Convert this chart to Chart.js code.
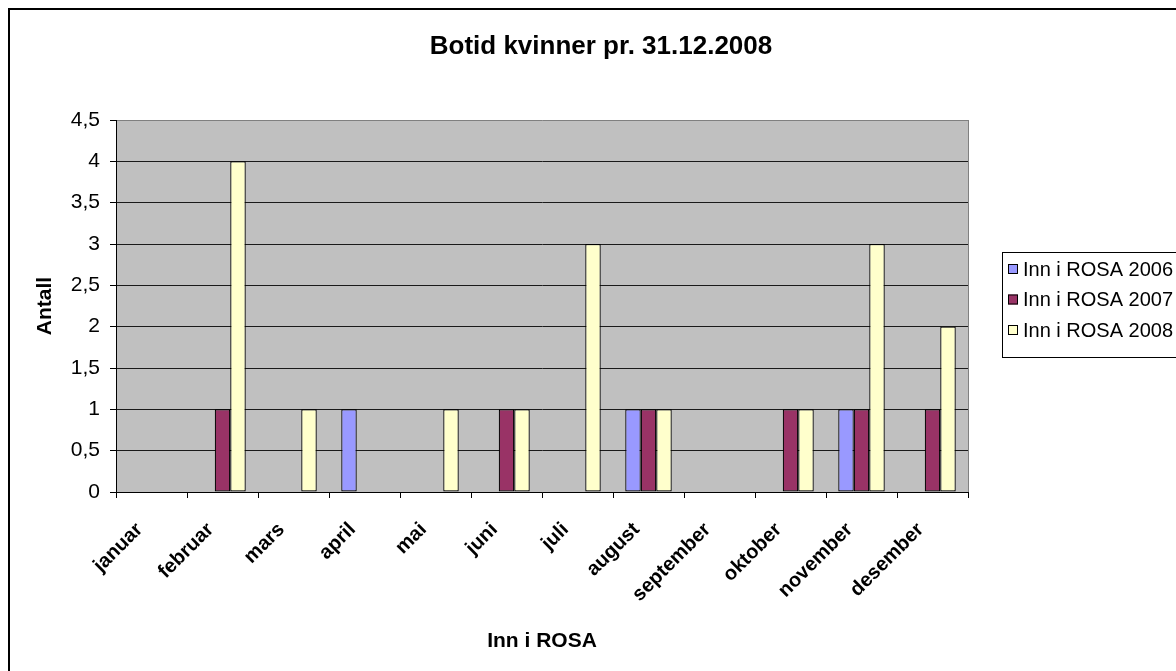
<!DOCTYPE html>
<html>
<head>
<meta charset="utf-8">
<script src="https://cdn.jsdelivr.net/npm/chart.js@4.4.1/dist/chart.umd.min.js"></script>
<style>
  html, body { margin: 0; padding: 0; background: #ffffff; overflow: hidden; }
  canvas { display: block; }
</style>
</head>
<body>
<canvas id="c" width="1176" height="671"></canvas>
<script>
const chartTitle = 'Botid kvinner pr. 31.12.2008';
const xAxisTitle = 'Inn i ROSA';
const yAxisTitle = 'Antall';
const categories = ['januar', 'februar', 'mars', 'april', 'mai', 'juni', 'juli', 'august', 'september', 'oktober', 'november', 'desember'];
const seriesNames = ['Inn i ROSA 2006', 'Inn i ROSA 2007', 'Inn i ROSA 2008'];
const values2006 = [0, 0, 0, 1, 0, 0, 0, 1, 0, 0, 1, 0];
const values2007 = [0, 1, 0, 0, 0, 1, 0, 1, 0, 1, 1, 1];
const values2008 = [0, 4, 1, 0, 1, 1, 3, 1, 0, 1, 3, 2];
const seriesColors = ['#9999FF', '#993366', '#FFFFCC'];
const yTickLabels = ['0', '0,5', '1', '1,5', '2', '2,5', '3', '3,5', '4', '4,5'];

const FONT = "'Liberation Sans', Arial, sans-serif";

const decorPlugin = {
  id: 'decor',
  beforeDraw(chart) {
    const ctx = chart.ctx;
    const a = chart.chartArea;
    ctx.save();
    ctx.fillStyle = '#ffffff';
    ctx.fillRect(0, 0, chart.width, chart.height);
    // outer chart border
    ctx.fillStyle = '#000000';
    ctx.fillRect(8, 8, 2, chart.height - 8);
    ctx.fillRect(8, 8, chart.width - 8, 2);
    // plot area
    ctx.fillStyle = '#C0C0C0';
    ctx.fillRect(a.left, a.top, a.right - a.left, a.bottom - a.top);
    ctx.restore();
  },
  afterDatasetsDraw(chart) {
    const ctx = chart.ctx;
    const a = chart.chartArea;
    ctx.save();
    ctx.strokeStyle = '#808080';
    ctx.lineWidth = 1;
    ctx.beginPath();
    ctx.moveTo(Math.round(a.right) + 0.5, a.top);
    ctx.lineTo(Math.round(a.right) + 0.5, a.bottom);
    ctx.stroke();
    ctx.restore();
  },
  afterDraw(chart) {
    const ctx = chart.ctx;
    ctx.save();
    // title
    ctx.fillStyle = '#000000';
    ctx.font = "bold 26px " + FONT;
    ctx.textAlign = 'center';
    ctx.textBaseline = 'middle';
    ctx.fillText(chartTitle, 601, 47);
    // legend
    const bx = 1002, by = 252, bh = 105;
    ctx.strokeStyle = '#000000';
    ctx.lineWidth = 1;
    ctx.strokeRect(bx + 0.5, by + 0.5, chart.width - bx + 10, bh);
    ctx.font = "20px " + FONT;
    ctx.textAlign = 'left';
    chart.data.datasets.forEach((ds, i) => {
      const cy = 269 + i * 30.5;
      ctx.fillStyle = ds.backgroundColor;
      ctx.fillRect(1008, cy - 5, 10, 10);
      ctx.strokeStyle = '#000000';
      ctx.strokeRect(1008.5, cy - 4.5, 9, 9);
      ctx.fillStyle = '#000000';
      ctx.fillText(ds.label, 1023, cy + 1);
    });
    ctx.restore();
  }
};

new Chart(document.getElementById('c'), {
  type: 'bar',
  data: {
    labels: categories,
    datasets: [
      { label: seriesNames[0], data: values2006, backgroundColor: seriesColors[0] },
      { label: seriesNames[1], data: values2007, backgroundColor: seriesColors[1] },
      { label: seriesNames[2], data: values2008, backgroundColor: seriesColors[2] }
    ]
  },
  options: {
    responsive: false,
    animation: false,
    devicePixelRatio: 1,
    layout: { padding: { top: 120, right: 208, bottom: 0, left: 0 } },
    datasets: {
      bar: {
        barPercentage: 1,
        categoryPercentage: 0.655,
        borderColor: '#000000',
        borderWidth: (c) => (c.raw === 0 ? 0 : 1.2),
        borderSkipped: false
      }
    },
    plugins: {
      legend: { display: false },
      title: { display: false },
      tooltip: { enabled: false }
    },
    scales: {
      x: {
        offset: true,
        afterFit: (s) => { s.height = 179; },
        grid: { offset: true, drawOnChartArea: false, drawTicks: true, tickLength: 6, color: '#000000', lineWidth: 1 },
        border: { display: true, color: '#000000', width: 1 },
        ticks: {
          autoSkip: false,
          maxRotation: 45,
          minRotation: 45,
          padding: 20,
          labelOffset: -12,
          color: '#000000',
          font: { family: FONT, size: 20, weight: 'bold' }
        },
        title: {
          display: true,
          text: xAxisTitle,
          color: '#000000',
          font: { family: FONT, size: 21, weight: 'bold' },
          padding: { top: 0, bottom: 17 }
        }
      },
      y: {
        min: 0,
        max: 4.5,
        afterFit: (s) => { s.width = 116; },
        grid: {
          color: (c) => (c.tick && c.tick.value === 4.5 ? '#808080' : '#1a1a1a'),
          tickColor: '#000000',
          lineWidth: 1,
          tickLength: 6
        },
        border: { display: true, color: '#000000', width: 1 },
        ticks: {
          stepSize: 0.5,
          padding: 10,
          color: '#000000',
          font: { family: FONT, size: 21 },
          callback: (v, i) => yTickLabels[i]
        },
        title: {
          display: true,
          text: yAxisTitle,
          color: '#000000',
          font: { family: FONT, size: 21, weight: 'bold' },
          padding: { top: 33, bottom: 0 }
        }
      }
    }
  },
  plugins: [decorPlugin]
});
</script>
</body>
</html>
